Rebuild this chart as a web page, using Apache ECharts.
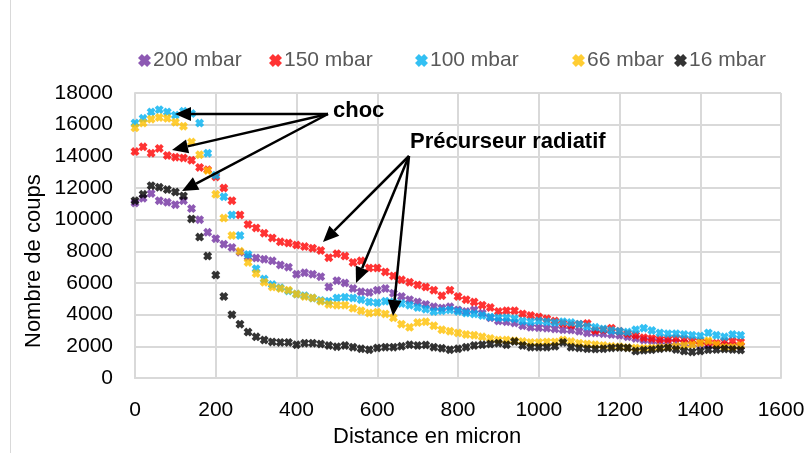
<!DOCTYPE html>
<html>
<head>
<meta charset="utf-8">
<script src="https://cdn.jsdelivr.net/npm/echarts@6/dist/echarts.min.js"></script>
<style>
  html, body { margin: 0; padding: 0; background: #fff; }
  #chart { width: 809px; height: 453px; }
</style>
</head>
<body>
<div id="chart"></div>
<script>
// distance en micron (abscisse commune)
var distances = [0,20,40,60,80,100,120,140,160,180,200,220,240,260,280,300,320,340,360,380,
  400,420,440,460,480,500,520,540,560,580,600,620,640,660,680,700,720,740,760,780,
  800,820,840,860,880,900,920,940,960,980,1000,1020,1040,1060,1080,1100,1120,1140,1160,1180,
  1200,1220,1240,1260,1280,1300,1320,1340,1360,1380,1400,1420,1440,1460,1480,1500];

var seriesNames = ['200 mbar', '150 mbar', '100 mbar', '66 mbar', '16 mbar'];
var seriesColors = ['#7030A0', '#FF0000', '#00B0F0', '#FFC000', '#000000'];

var mbar200 = [11050,11350,11650,11200,11100,10950,11200,10700,10000,9200,8800,8450,8250,7950,7650,7580,7500,7400,7140,7000,
  6550,6650,6550,6400,5750,6150,6000,5650,5450,5400,5550,5650,5350,5150,4950,4800,4650,4500,4420,4500,
  4300,4200,4300,4100,3800,3600,3550,3480,3300,3200,3180,3150,3100,3050,3030,2950,2850,2850,2800,2750,
  2700,2600,2500,2400,2350,2300,2300,2250,2200,2150,2100,2100,2050,2050,2000,2000];
var mbar150 = [14300,14600,14200,14500,14050,13950,13900,13750,13300,13150,12700,12000,11200,10300,9700,9480,9150,8850,8600,8530,
  8400,8300,8200,8050,7600,7850,7700,7300,7400,6950,6950,6700,6450,6200,6050,5880,5750,5550,5200,5550,
  5150,4950,4800,4600,4450,4200,4250,4250,4050,3950,3850,3750,3600,3450,3350,3400,3450,3000,3050,3150,
  2950,2800,2700,2550,2500,2450,2450,2500,2450,2350,2300,2250,2200,2300,2330,2280];
var mbar100 = [16100,16400,16800,16950,16800,16600,16850,16700,16100,14200,12800,11450,10300,9000,7800,6900,6250,5900,5700,5500,
  5300,5200,5050,4900,4850,5050,5100,5050,4950,4800,4750,4850,4800,4700,4600,4450,4350,4200,4250,4300,
  4200,4100,4050,3950,3850,3800,3800,3750,3600,3550,3600,3550,3500,3550,3500,3400,3250,3200,3100,3000,
  2950,2900,3050,3150,3000,2850,2800,2800,2750,2700,2650,2850,2700,2600,2750,2700];
var mbar66 = [15800,16100,16350,16450,16400,16150,15900,14900,14100,13100,11600,10100,9000,8000,7300,6600,6050,5750,5650,5550,
  5300,5150,5050,4850,4650,4600,4600,4400,4250,4100,4150,4050,3800,3400,3200,3500,3550,3300,3050,2950,
  2850,2750,2700,2600,2500,2400,2400,2350,2300,2250,2250,2280,2280,2400,2300,2200,2150,2100,2050,2000,
  1980,1920,1900,1880,1900,1920,1950,2000,2050,2100,2200,2350,2100,1950,1950,2050];
var mbar16 = [11200,11600,12150,12050,11900,11750,11500,10050,8900,7700,6500,5150,4000,3400,2900,2600,2400,2280,2250,2250,
  2100,2200,2200,2150,2050,1980,2050,1950,1850,1780,1900,1950,1950,2000,2100,2050,2080,1950,1880,1780,
  1850,1950,2050,2100,2150,2200,2100,2300,2050,1950,1950,1950,2000,2250,1950,1900,1850,1830,1850,1900,
  1920,1900,1700,1750,1780,1850,1900,1800,1700,1650,1700,1780,1800,1830,1800,1770];

var xTicks = ['0','200','400','600','800','1000','1200','1400','1600'];
var yTicks = ['0','2000','4000','6000','8000','10000','12000','14000','16000','18000'];

var allValues = [mbar200, mbar150, mbar100, mbar66, mbar16];
var legendLefts = [133, 264, 410, 567, 669];

var crossPath = 'path://M0,3 L3,0 L5,2 L7,0 L10,3 L8,5 L10,7 L7,10 L5,8 L3,10 L0,7 L2,5 Z';
var fontFam = '"Liberation Sans", Arial, sans-serif';

function pairs(vals){
	var out = [];
	for(var i=0;i<vals.length;i++){
		out.push([distances[i], vals[i]]);
	}
	return out;
}

// fleche : trait + pointe triangulaire
function arrow(sx, sy, tx, ty){
	var dx = tx - sx, dy = ty - sy;
	var len = Math.sqrt(dx*dx + dy*dy);
	var ux = dx/len, uy = dy/len;
	var L = 16, W = 7;
	var bx = tx - ux*L, by = ty - uy*L;
	return [
		{ type: 'line', shape: { x1: sx, y1: sy, x2: bx, y2: by }, style: { stroke: '#000', lineWidth: 2.5 }, z: 100 },
		{ type: 'polygon', shape: { points: [[tx, ty], [bx - uy*W, by + ux*W], [bx + uy*W, by - ux*W]] }, style: { fill: '#000' }, z: 100 }
	];
}

var chart = echarts.init(document.getElementById('chart'));

var series = [];
var legends = [];
for(var i=0;i<seriesNames.length;i++){
	series.push({
		name: seriesNames[i],
		type: 'scatter',
		symbol: crossPath,
		symbolSize: 9,
		itemStyle: { color: seriesColors[i] },
		data: pairs(allValues[i])
	});
	legends.push({
		data: [seriesNames[i]],
		left: legendLefts[i],
		top: 45,
		itemWidth: 13,
		itemHeight: 13,
		itemGap: 0,
		textStyle: { fontFamily: fontFam, fontSize: 21, color: '#595959', padding: [0,0,0,-3] }
	});
}

var graphics = [
	{ type: 'line', shape: { x1: 10.5, y1: 0, x2: 10.5, y2: 453 }, style: { stroke: '#D9D9D9', lineWidth: 1 } },
	{ type: 'text', left: 333, top: 100, style: { text: 'choc', font: 'bold 22px ' + fontFam, fill: '#000' }, z: 100 },
	{ type: 'text', left: 410, top: 131, style: { text: 'Précurseur radiatif', font: 'bold 22px ' + fontFam, fill: '#000' }, z: 100 },
	{ type: 'text', left: 333, top: 426, style: { text: 'Distance en micron', font: '22px ' + fontFam, fill: '#000' } },
	{ type: 'text', x: 23, y: 348, rotation: Math.PI/2, style: { text: 'Nombre de coups', font: '22px ' + fontFam, fill: '#000' } }
];
graphics = graphics
	.concat(arrow(328, 114, 175, 114))
	.concat(arrow(328, 114, 172, 150))
	.concat(arrow(328, 114, 182, 191))
	.concat(arrow(409, 156, 323, 242))
	.concat(arrow(409, 156, 356, 283))
	.concat(arrow(409, 156, 393, 316));

var option = {
	animation: false,
	backgroundColor: '#fff',
	grid: { left: 135, right: 28, top: 93, bottom: 75, containLabel: false },
	legend: legends,
	xAxis: {
		type: 'value',
		min: 0, max: 1600, interval: 200,
		axisLine: { show: true, lineStyle: { color: '#D9D9D9', width: 2 } },
		axisTick: { show: false },
		axisLabel: {
			fontFamily: fontFam, fontSize: 21, color: '#000', margin: 22,
			formatter: function(v){ return xTicks[Math.round(v/200)]; }
		},
		splitLine: { show: true, lineStyle: { color: '#D9D9D9', width: 2 } }
	},
	yAxis: {
		type: 'value',
		min: 0, max: 18000, interval: 2000,
		axisLine: { show: true, lineStyle: { color: '#D9D9D9', width: 2 } },
		axisTick: { show: false },
		axisLabel: {
			fontFamily: fontFam, fontSize: 21, color: '#000', margin: 22,
			formatter: function(v){ return yTicks[Math.round(v/2000)]; }
		},
		splitLine: { show: true, lineStyle: { color: '#D9D9D9', width: 2 } }
	},
	series: series,
	graphic: graphics
};
chart.setOption(option);
</script>
</body>
</html>
